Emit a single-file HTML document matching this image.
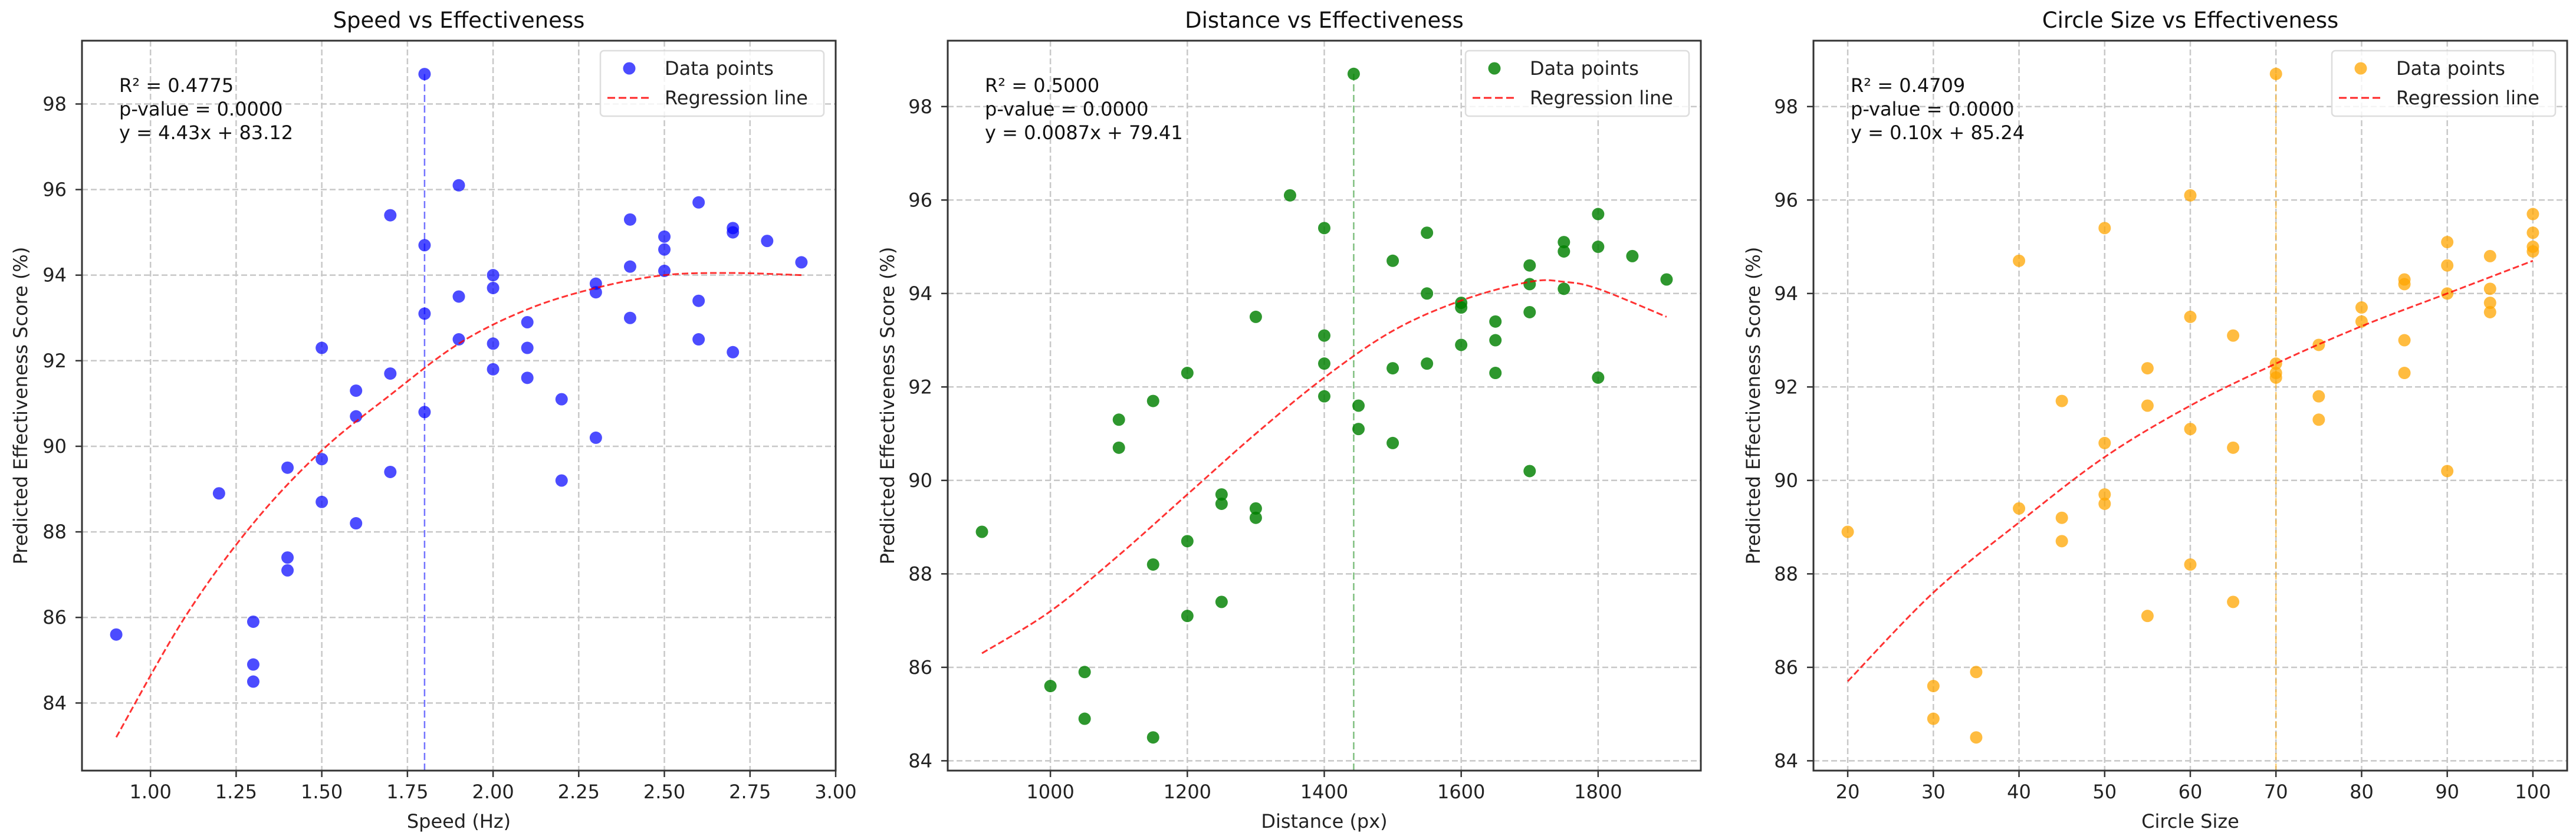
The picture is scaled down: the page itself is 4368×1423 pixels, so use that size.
<!DOCTYPE html>
<html><head><meta charset="utf-8"><style>
html,body{margin:0;padding:0;background:#fff;}
svg{display:block;font-family:"DejaVu Sans","Liberation Sans",sans-serif;}
</style></head><body>
<svg id="fig" width="4368" height="1423" viewBox="0 0 4368 1423" xmlns="http://www.w3.org/2000/svg"></svg>
<script>
// ---- Chart 1: Speed ----
const speedX = [0.9,1.2,1.3,1.3,1.3,1.4,1.4,1.4,1.5,1.5,1.5,1.6,1.6,1.6,1.7,1.7,1.7,1.8,1.8,1.8,1.8,1.9,1.9,1.9,2.0,2.0,2.0,2.0,2.1,2.1,2.1,2.2,2.2,2.3,2.3,2.3,2.4,2.4,2.4,2.5,2.5,2.5,2.6,2.6,2.6,2.7,2.7,2.7,2.8,2.9];
const speedY = [85.6,88.9,85.9,84.9,84.5,89.5,87.4,87.1,92.3,89.7,88.7,91.3,90.7,88.2,95.4,91.7,89.4,98.7,94.7,93.1,90.8,96.1,93.5,92.5,94.0,93.7,92.4,91.8,92.9,92.3,91.6,91.1,89.2,93.8,93.6,90.2,95.3,94.2,93.0,94.9,94.6,94.1,95.7,93.4,92.5,95.1,95.0,92.2,94.8,94.3];
const speedFitX = [0.9,1.1,1.3,1.5,1.7,1.9,2.1,2.3,2.5,2.7,2.9];
const speedFitY = [83.2,86.0,88.2,89.9,91.2,92.4,93.2,93.7,94.0,94.05,94.0];
const speedXTicks = [1.0,1.25,1.5,1.75,2.0,2.25,2.5,2.75,3.0];
const speedXTickLabels = ["1.00","1.25","1.50","1.75","2.00","2.25","2.50","2.75","3.00"];
const speedBest = [1.8];
// ---- Chart 2: Distance ----
const distX = [900,1000,1050,1050,1100,1100,1150,1150,1150,1200,1200,1200,1250,1250,1250,1300,1300,1300,1350,1400,1400,1400,1400,1443,1450,1450,1500,1500,1500,1550,1550,1550,1600,1600,1600,1650,1650,1650,1700,1700,1700,1700,1750,1750,1750,1800,1800,1800,1850,1900];
const distY = [88.9,85.6,85.9,84.9,91.3,90.7,91.7,88.2,84.5,92.3,88.7,87.1,89.7,89.5,87.4,93.5,89.4,89.2,96.1,95.4,93.1,92.5,91.8,98.7,91.6,91.1,94.7,92.4,90.8,95.3,94.0,92.5,93.8,93.7,92.9,93.4,93.0,92.3,94.6,94.2,93.6,90.2,95.1,94.9,94.1,95.7,95.0,92.2,94.8,94.3];
const distFitX = [900,1000,1100,1200,1300,1400,1500,1600,1700,1750,1800,1900];
const distFitY = [86.3,87.2,88.4,89.7,91.0,92.2,93.2,93.85,94.25,94.25,94.1,93.5];
const distXTicks = [1000,1200,1400,1600,1800];
const distXTickLabels = ["1000","1200","1400","1600","1800"];
const distBest = [1443];
// ---- Chart 3: Circle size ----
const sizeX = [20,30,30,35,35,40,40,45,45,45,50,50,50,50,55,55,55,60,60,60,60,65,65,65,70,70,70,70,75,75,75,80,80,85,85,85,85,90,90,90,90,95,95,95,95,100,100,100,100];
const sizeY = [88.9,85.6,84.9,85.9,84.5,94.7,89.4,91.7,89.2,88.7,95.4,90.8,89.7,89.5,92.4,91.6,87.1,96.1,93.5,91.1,88.2,93.1,90.7,87.4,98.7,92.5,92.3,92.2,92.9,91.8,91.3,93.7,93.4,94.3,94.2,93.0,92.3,95.1,94.6,94.0,90.2,94.8,94.1,93.8,93.6,95.7,95.3,95.0,94.9];
const sizeFitX = [20,30,40,50,60,70,80,90,100];
const sizeFitY = [85.7,87.6,89.1,90.5,91.6,92.5,93.3,94.0,94.7];
const sizeXTicks = [20,30,40,50,60,70,80,90,100];
const sizeXTickLabels = ["20","30","40","50","60","70","80","90","100"];
const sizeBest = [70];
const yTicks = [84,86,88,90,92,94,96,98];
const yTickLabels = ["84","86","88","90","92","94","96","98"];

const NS="http://www.w3.org/2000/svg";
const fig=document.getElementById('fig');
function mk(tag,attrs,parent){const e=document.createElementNS(NS,tag);for(const k in attrs)e.setAttribute(k,attrs[k]);(parent||fig).appendChild(e);return e;}

const charts=[
 {key:'speed',title:'Speed vs Effectiveness',xlabel:'Speed (Hz)',L:139,R:1417,xmin:0.8,xmax:3.0,ymin:82.42,ymax:99.48,
  xs:speedX,ys:speedY,fx:speedFitX,fy:speedFitY,xt:speedXTicks,xtl:speedXTickLabels,best:speedBest,
  col:'rgba(0,0,255,0.7)',vcol:'rgba(0,0,255,0.55)',ylabX:35,stats:['R² = 0.4775','p-value = 0.0000','y = 4.43x + 83.12']},
 {key:'distance',title:'Distance vs Effectiveness',xlabel:'Distance (px)',L:1607,R:2884,xmin:850,xmax:1950,ymin:83.79,ymax:99.41,
  xs:distX,ys:distY,fx:distFitX,fy:distFitY,xt:distXTicks,xtl:distXTickLabels,best:distBest,
  col:'rgba(0,128,0,0.82)',vcol:'rgba(0,128,0,0.5)',ylabX:1505,stats:['R² = 0.5000','p-value = 0.0000','y = 0.0087x + 79.41']},
 {key:'circle-size',title:'Circle Size vs Effectiveness',xlabel:'Circle Size',L:3075,R:4353,xmin:16,xmax:104,ymin:83.79,ymax:99.41,
  xs:sizeX,ys:sizeY,fx:sizeFitX,fy:sizeFitY,xt:sizeXTicks,xtl:sizeXTickLabels,best:sizeBest,
  col:'rgba(255,165,0,0.75)',vcol:'rgba(255,165,0,0.55)',ylabX:2973,stats:['R² = 0.4709','p-value = 0.0000','y = 0.10x + 85.24']}
];
const T=69,B=1307;
charts.forEach(c=>{
 const g=mk('g',{});
 
 
 const sx=v=>c.L+(v-c.xmin)/(c.xmax-c.xmin)*(c.R-c.L);
 const sy=v=>B-(v-c.ymin)/(c.ymax-c.ymin)*(B-T);
 // grid
 c.xt.forEach((t,i)=>{const x=sx(t);
  const gl=mk('line',{x1:x,x2:x,y1:T,y2:B,stroke:'#c8c8c8','stroke-width':2.5,'stroke-dasharray':'10,5'},g);
  
  
  mk('line',{x1:x,x2:x,y1:B,y2:B+11,stroke:'#333','stroke-width':2.5},g);
  const tl=mk('text',{x:x,y:B+47,'font-size':32,'text-anchor':'middle',fill:'#222'},g);
  tl.textContent=c.xtl[i];
  
  
 });
 yTicks.forEach((t,i)=>{const y=sy(t);
  const gl=mk('line',{x1:c.L,x2:c.R,y1:y,y2:y,stroke:'#c8c8c8','stroke-width':2.5,'stroke-dasharray':'10,5'},g);
  
  
  mk('line',{x1:c.L-11,x2:c.L,y1:y,y2:y,stroke:'#333','stroke-width':2.5},g);
  const tl=mk('text',{x:c.L-26,y:y+11,'font-size':32,'text-anchor':'end',fill:'#222'},g);
  tl.textContent=yTickLabels[i];
  
  
 });
 // best vertical line
 c.best.forEach(b=>{
  const vl=mk('line',{x1:sx(b),x2:sx(b),y1:B,y2:sy(Math.max(...c.ys)),stroke:c.vcol,'stroke-width':2.5,'stroke-dasharray':'12,6'},g);
  
  
 });
 // points
 c.xs.forEach((x,i)=>{
  const p=mk('circle',{cx:sx(x),cy:sy(c.ys[i]),r:10.5,fill:c.col},g);
  
  
 });
 // regression curve (smooth through read points)
 const P=c.fx.map((x,i)=>[sx(x),sy(c.fy[i])]);
 let d='M'+P[0][0]+','+P[0][1];
 for(let i=0;i<P.length-1;i++){
  const p0=P[Math.max(0,i-1)],p1=P[i],p2=P[i+1],p3=P[Math.min(P.length-1,i+2)];
  const c1=[p1[0]+(p2[0]-p0[0])/6,p1[1]+(p2[1]-p0[1])/6];
  const c2=[p2[0]-(p3[0]-p1[0])/6,p2[1]-(p3[1]-p1[1])/6];
  d+=' C'+c1[0]+','+c1[1]+' '+c2[0]+','+c2[1]+' '+p2[0]+','+p2[1];
 }
 const rl=mk('path',{d:d,fill:'none',stroke:'rgba(255,0,0,0.8)','stroke-width':3,'stroke-dasharray':'11,5'},g);
 
 
 // spines
 const fr=mk('rect',{x:c.L,y:T,width:c.R-c.L,height:B-T,fill:'none',stroke:'#333','stroke-width':3},g);
 
 
 // title & labels
 const tt=mk('text',{x:(c.L+c.R)/2,y:47,'font-size':37,'text-anchor':'middle',fill:'#111'},g);
 tt.textContent=c.title;
 
 
 const xl=mk('text',{x:(c.L+c.R)/2,y:1404,'font-size':32,'text-anchor':'middle',fill:'#222'},g);
 xl.textContent=c.xlabel;
 
 
 const yl=mk('text',{x:0,y:0,'font-size':32,'text-anchor':'middle',fill:'#222',transform:'translate('+(c.ylabX+11)+','+((T+B)/2)+') rotate(-90)'},g);
 yl.textContent='Predicted Effectiveness Score (%)';
 
 
 // stats
 c.stats.forEach((s,i)=>{
  const st=mk('text',{x:c.L+63,y:156+i*40,'font-size':32,fill:'#111'},g);
  st.textContent=s;
  
  
 });
 // legend
 const lx=c.R-399;
 const lg=mk('g',{},g);
 
 
 mk('rect',{x:lx,y:86,width:379,height:111,rx:6,fill:'rgba(255,255,255,0.8)',stroke:'#ddd','stroke-width':2.5},lg);
 mk('circle',{cx:lx+49,cy:116,r:10.5,fill:c.col},lg);
 const t1=mk('text',{x:lx+109,y:127,'font-size':32,fill:'#222'},lg);
 t1.textContent='Data points';
 
 
 mk('line',{x1:lx+12,x2:lx+83,y1:166,y2:166,stroke:'rgba(255,0,0,0.85)','stroke-width':3,'stroke-dasharray':'13,6'},lg);
 const t2=mk('text',{x:lx+109,y:177,'font-size':32,fill:'#222'},lg);
 t2.textContent='Regression line';
 
 
});
</script>
</body></html>
